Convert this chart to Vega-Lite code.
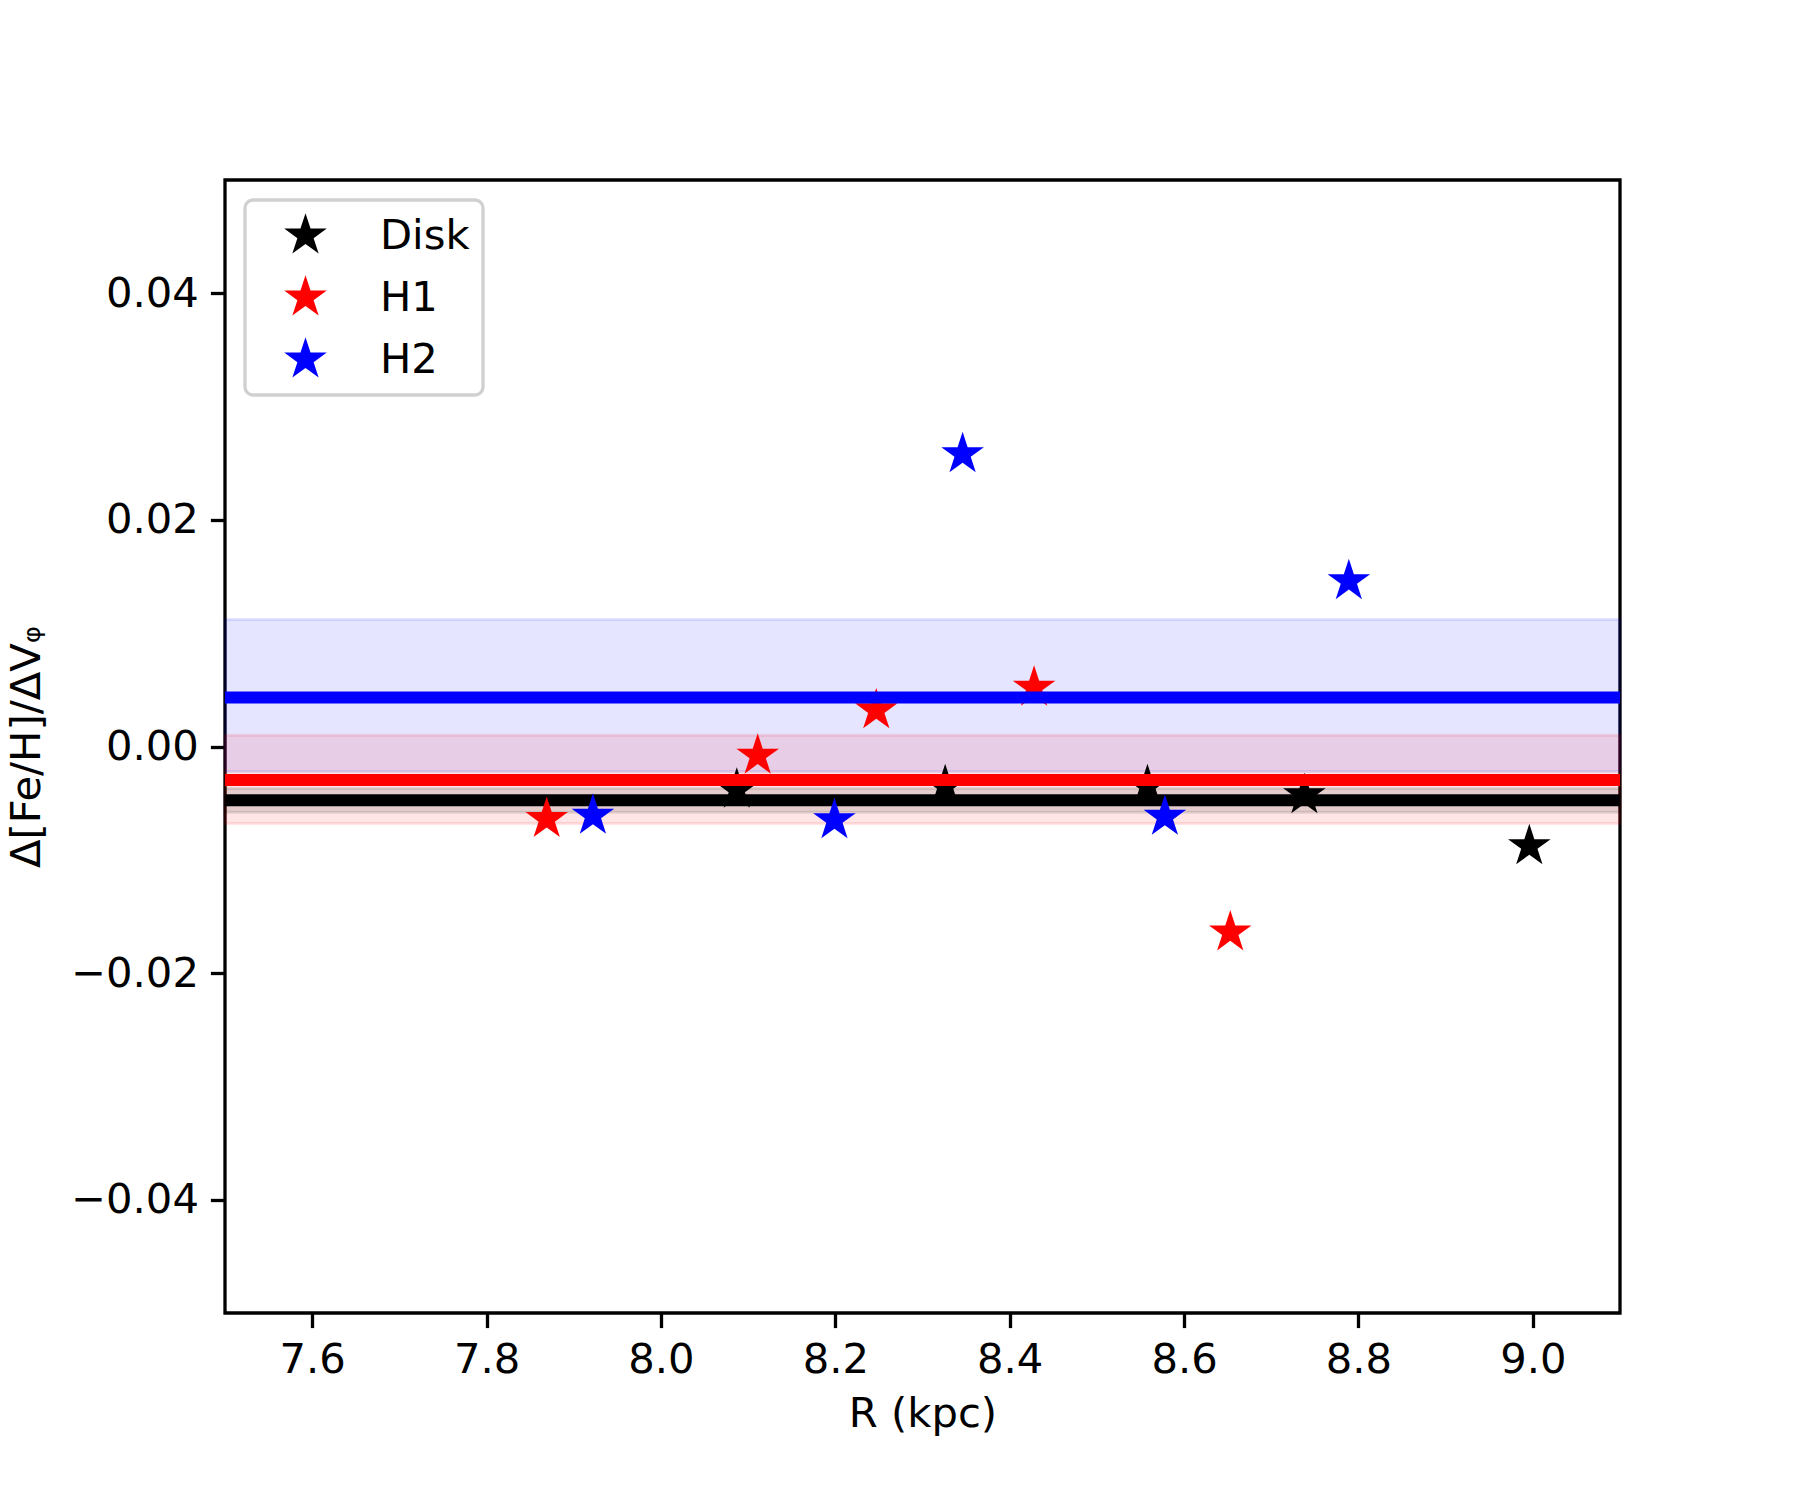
{
  "$schema": "https://vega.github.io/schema/vega-lite/v6.json",
  "width": 1395,
  "height": 1133,
  "autosize": {"type": "none"},
  "padding": {"left": 225, "top": 180, "right": 180, "bottom": 187},
  "background": "white",
  "config": {
    "font": "DejaVu Sans",
    "view": {"stroke": "black", "strokeWidth": 3.3},
    "axis": {
      "domain": false,
      "grid": false,
      "ticks": true,
      "tickColor": "black",
      "tickSize": 14.6,
      "tickWidth": 3.3,
      "labelFont": "DejaVu Sans",
      "labelFontSize": 41.7,
      "labelColor": "black",
      "labelPadding": 12,
      "titleFont": "DejaVu Sans",
      "titleFontSize": 41.7,
      "titleFontWeight": "normal",
      "titleColor": "black"
    },
    "legend": {
      "orient": "none",
      "legendX": 20,
      "legendY": 20,
      "padding": 13,
      "fillColor": "white",
      "strokeColor": "#d0d0d0",
      "strokeWidth": 3.3,
      "cornerRadius": 8,
      "symbolSize": 2000,
      "symbolStrokeWidth": 0,
      "symbolOffset": 25,
      "labelOffset": 52,
      "labelFont": "DejaVu Sans",
      "labelFontSize": 41.7,
      "labelColor": "black",
      "rowPadding": 17
    }
  },
  "datasets": {
    "disk": [
      {"group": "Disk", "R": 8.087, "slope": -0.0038},
      {"group": "Disk", "R": 8.326, "slope": -0.0035},
      {"group": "Disk", "R": 8.558, "slope": -0.0035},
      {"group": "Disk", "R": 8.738, "slope": -0.0043},
      {"group": "Disk", "R": 8.996, "slope": -0.0088}
    ],
    "h1": [
      {"group": "H1", "R": 7.869, "slope": -0.0064},
      {"group": "H1", "R": 8.111, "slope": -0.0008},
      {"group": "H1", "R": 8.247, "slope": 0.0032},
      {"group": "H1", "R": 8.428, "slope": 0.0052},
      {"group": "H1", "R": 8.653, "slope": -0.0164}
    ],
    "h2": [
      {"group": "H2", "R": 7.922, "slope": -0.0061},
      {"group": "H2", "R": 8.199, "slope": -0.0065},
      {"group": "H2", "R": 8.346, "slope": 0.0258},
      {"group": "H2", "R": 8.578, "slope": -0.0062},
      {"group": "H2", "R": 8.789, "slope": 0.0146}
    ],
    "line_disk": [
      {"group": "Disk", "value": -0.00475, "lo": -0.0058, "hi": -0.0037, "xmin": 7.5, "xmax": 9.1}
    ],
    "line_h1": [
      {"group": "H1", "value": -0.00296, "lo": -0.0068, "hi": 0.0010, "xmin": 7.5, "xmax": 9.1}
    ],
    "line_h2": [
      {"group": "H2", "value": 0.00432, "lo": -0.0022, "hi": 0.0112, "xmin": 7.5, "xmax": 9.1}
    ]
  },
  "layer": [
    {
      "data": {"name": "line_h2"},
      "mark": {"type": "rect", "color": "#0000ff", "fillOpacity": 0.1, "strokeOpacity": 0.1, "strokeWidth": 3, "stroke": "#0000ff"},
      "encoding": {
        "x": {"field": "xmin", "type": "quantitative", "scale": {"domain": [7.5, 9.1], "nice": false, "zero": false}, "axis": {"title": "R (kpc)", "values": [7.6, 7.8, 8.0, 8.2, 8.4, 8.6, 8.8, 9.0], "format": ".1f", "titlePadding": 12}},
        "x2": {"field": "xmax"},
        "y": {"field": "lo", "type": "quantitative", "scale": {"domain": [-0.05, 0.05], "nice": false, "zero": false}, "axis": {"title": "Δ[Fe/H]/ΔVᵩ", "values": [-0.04, -0.02, 0, 0.02, 0.04], "format": ".2f", "titlePadding": 22}},
        "y2": {"field": "hi"}
      }
    },
    {
      "data": {"name": "line_h1"},
      "mark": {"type": "rect", "color": "#ff0000", "fillOpacity": 0.1, "strokeOpacity": 0.1, "strokeWidth": 3, "stroke": "#ff0000"},
      "encoding": {
        "x": {"field": "xmin", "type": "quantitative"},
        "x2": {"field": "xmax"},
        "y": {"field": "lo", "type": "quantitative"},
        "y2": {"field": "hi"}
      }
    },
    {
      "data": {"name": "line_disk"},
      "mark": {"type": "rect", "color": "#000000", "fillOpacity": 0.1, "strokeOpacity": 0.1, "strokeWidth": 3, "stroke": "#000000"},
      "encoding": {
        "x": {"field": "xmin", "type": "quantitative"},
        "x2": {"field": "xmax"},
        "y": {"field": "lo", "type": "quantitative"},
        "y2": {"field": "hi"}
      }
    },
    {
      "data": {"name": "disk"},
      "mark": {"type": "point", "shape": "M0,-1L0.2245,-0.309L0.9511,-0.309L0.3633,0.118L0.5878,0.809L0,0.382L-0.5878,0.809L-0.3633,0.118L-0.9511,-0.309L-0.2245,-0.309Z", "filled": true, "size": 2000, "opacity": 1, "strokeWidth": 0},
      "encoding": {
        "x": {"field": "R", "type": "quantitative"},
        "y": {"field": "slope", "type": "quantitative"},
        "color": {"field": "group", "type": "nominal", "scale": {"domain": ["Disk", "H1", "H2"], "range": ["#000000", "#ff0000", "#0000ff"]}, "legend": {"title": null, "symbolType": "M0,-1L0.2245,-0.309L0.9511,-0.309L0.3633,0.118L0.5878,0.809L0,0.382L-0.5878,0.809L-0.3633,0.118L-0.9511,-0.309L-0.2245,-0.309Z"}}
      }
    },
    {
      "data": {"name": "line_disk"},
      "mark": {"type": "rule", "strokeWidth": 12, "color": "#000000"},
      "encoding": {
        "x": {"field": "xmin", "type": "quantitative"},
        "x2": {"field": "xmax"},
        "y": {"field": "value", "type": "quantitative"}
      }
    },
    {
      "data": {"name": "h1"},
      "mark": {"type": "point", "shape": "M0,-1L0.2245,-0.309L0.9511,-0.309L0.3633,0.118L0.5878,0.809L0,0.382L-0.5878,0.809L-0.3633,0.118L-0.9511,-0.309L-0.2245,-0.309Z", "filled": true, "size": 2000, "opacity": 1, "strokeWidth": 0},
      "encoding": {
        "x": {"field": "R", "type": "quantitative"},
        "y": {"field": "slope", "type": "quantitative"},
        "color": {"field": "group", "type": "nominal", "legend": {"title": null, "symbolType": "M0,-1L0.2245,-0.309L0.9511,-0.309L0.3633,0.118L0.5878,0.809L0,0.382L-0.5878,0.809L-0.3633,0.118L-0.9511,-0.309L-0.2245,-0.309Z"}}
      }
    },
    {
      "data": {"name": "line_h1"},
      "mark": {"type": "rule", "strokeWidth": 12, "color": "#ff0000"},
      "encoding": {
        "x": {"field": "xmin", "type": "quantitative"},
        "x2": {"field": "xmax"},
        "y": {"field": "value", "type": "quantitative"}
      }
    },
    {
      "data": {"name": "h2"},
      "mark": {"type": "point", "shape": "M0,-1L0.2245,-0.309L0.9511,-0.309L0.3633,0.118L0.5878,0.809L0,0.382L-0.5878,0.809L-0.3633,0.118L-0.9511,-0.309L-0.2245,-0.309Z", "filled": true, "size": 2000, "opacity": 1, "strokeWidth": 0},
      "encoding": {
        "x": {"field": "R", "type": "quantitative"},
        "y": {"field": "slope", "type": "quantitative"},
        "color": {"field": "group", "type": "nominal", "legend": {"title": null, "symbolType": "M0,-1L0.2245,-0.309L0.9511,-0.309L0.3633,0.118L0.5878,0.809L0,0.382L-0.5878,0.809L-0.3633,0.118L-0.9511,-0.309L-0.2245,-0.309Z"}}
      }
    },
    {
      "data": {"name": "line_h2"},
      "mark": {"type": "rule", "strokeWidth": 12, "color": "#0000ff"},
      "encoding": {
        "x": {"field": "xmin", "type": "quantitative"},
        "x2": {"field": "xmax"},
        "y": {"field": "value", "type": "quantitative"}
      }
    }
  ]
}
